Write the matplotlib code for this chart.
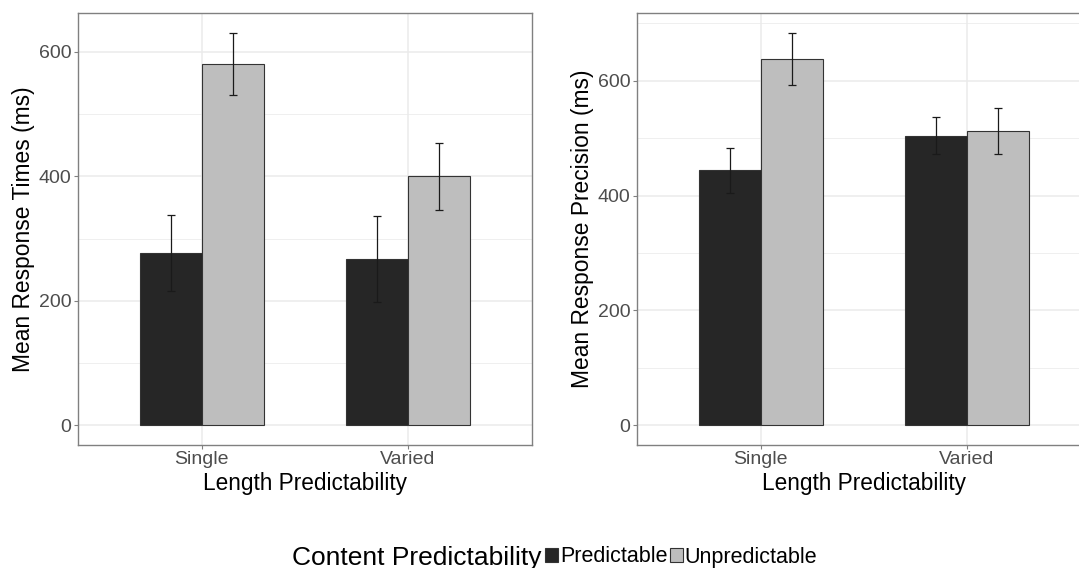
import matplotlib.pyplot as plt
import matplotlib.ticker as ticker
from matplotlib.patches import Patch
import numpy as np

plt.rcParams["font.family"] = ["Liberation Sans", "DejaVu Sans"]

# data
categories = ["Single", "Varied"]
groups = ["Predictable", "Unpredictable"]
colors = ["#262626", "#bebebe"]

rt_pred = [276, 267]
rt_pred_err = [61, 69]
rt_unpred = [580, 400]
rt_unpred_err = [50, 54]

prec_pred = [444, 504]
prec_pred_err = [39, 32]
prec_unpred = [638, 512]
prec_unpred_err = [45, 40]

fig = plt.figure(figsize=(10.79, 5.68), dpi=100)
ax1 = fig.add_axes([0.0720, 0.2165, 0.4210, 0.7600])
ax2 = fig.add_axes([0.5901, 0.2165, 0.4210, 0.7600])

x = np.arange(1, len(categories) + 1)
bar_w = 0.3


def draw_panel(ax, means, errs, ylabel):
    for i, (m, e) in enumerate(zip(means, errs)):
        pos = x + (i - 0.5) * bar_w
        ax.bar(pos, m, width=bar_w, color=colors[i], edgecolor="#333333",
               linewidth=0.8, zorder=3)
        ax.errorbar(pos, m, yerr=e, fmt="none", ecolor="#1a1a1a",
                    elinewidth=0.9, capsize=3.2, capthick=0.9, zorder=4)
    # ggplot-style 5% expansion around the data range
    top = max(np.max(np.array(m_) + np.array(e_)) for m_, e_ in zip(means, errs))
    pad = top * 0.05
    ax.set_ylim(-pad, top + pad)
    ax.set_xlim(0.4, 2.6)
    ax.set_xticks(x)
    ax.set_xticklabels(categories)
    ax.yaxis.set_major_locator(ticker.MultipleLocator(200))
    ax.yaxis.set_minor_locator(ticker.MultipleLocator(100))
    ax.grid(True, which="major", color="#ebebeb", linewidth=1.1, zorder=0)
    ax.grid(True, which="minor", axis="y", color="#ebebeb", linewidth=0.55, zorder=0)
    ax.set_axisbelow(True)
    for s in ax.spines.values():
        s.set_color("#808080")
        s.set_linewidth(1.0)
    ax.tick_params(which="major", length=3, width=0.8, color="#808080",
                   labelsize=14, labelcolor="#4d4d4d", pad=1.5)
    ax.tick_params(which="minor", length=0)
    ax.set_ylabel(ylabel, fontsize=16.4)
    ax.set_xlabel("Length Predictability", fontsize=16.3)
    ax.yaxis.set_label_coords(-0.095, 0.5)
    ax.xaxis.set_label_coords(0.5, -0.062)


draw_panel(ax1, [rt_pred, rt_unpred], [rt_pred_err, rt_unpred_err],
           "Mean Response Times (ms)")
draw_panel(ax2, [prec_pred, prec_unpred], [prec_pred_err, prec_unpred_err],
           "Mean Response Precision (ms)")

# legend: title to the left of the keys, as ggplot does at the bottom
fig.text(292 / 1079, 1 - 565 / 568, "Content Predictability", fontsize=19,
         ha="left", va="baseline")
handles = [Patch(facecolor=c, edgecolor="#333333", linewidth=0.8) for c in colors]
fig.legend(handles, groups, loc="center left", bbox_to_anchor=(545 / 1079, 1 - 557 / 568),
           ncol=2, frameon=False, fontsize=15.5, handlelength=0.6, handleheight=0.6,
           handletextpad=0.1, columnspacing=0.1, borderpad=0, borderaxespad=0)

fig.savefig("out.png", dpi=100)
